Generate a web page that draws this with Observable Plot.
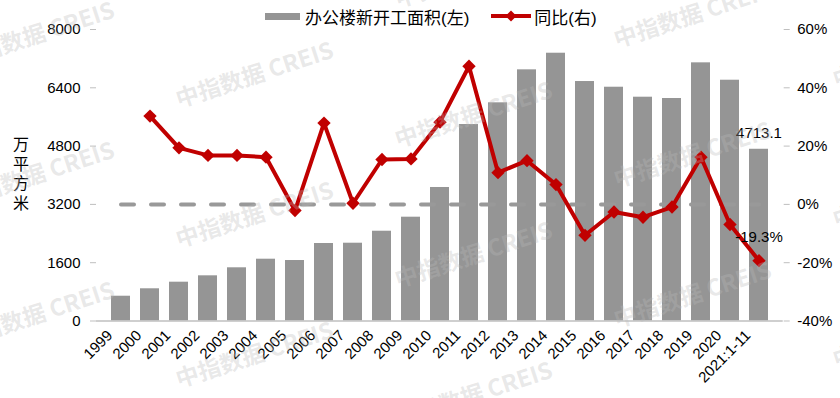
<!DOCTYPE html>
<html><head><meta charset="utf-8">
<script src="https://cdn.jsdelivr.net/npm/d3@7"></script>
<script src="https://cdn.jsdelivr.net/npm/@observablehq/plot@0.6"></script>
<style>
body{margin:0;background:#fff;}
#wrap{position:relative;width:840px;height:398px;overflow:hidden;font-family:"Liberation Sans",Arial,"Noto Sans CJK SC",sans-serif;color:#000;}
#wrap svg{position:absolute;left:0;top:0;}
.legend{position:absolute;left:265px;top:5px;height:22px;display:flex;align-items:center;font-size:17px;font-family:"Liberation Sans","Noto Sans CJK SC",sans-serif;white-space:nowrap;}
.ytitle{position:absolute;left:10px;top:136px;font-size:16px;line-height:22px;letter-spacing:3.5px;writing-mode:vertical-rl;text-orientation:upright;font-family:"Noto Sans CJK SC",sans-serif;}
.wm{position:absolute;font-size:23px;font-weight:bold;color:rgba(185,185,185,0.33);white-space:nowrap;transform:translate(-50%,-50%) rotate(-18deg);pointer-events:none;font-family:"Noto Sans CJK SC","Liberation Sans",sans-serif;}
</style></head><body><div id="wrap"></div><script>
const categories = ["1999","2000","2001","2002","2003","2004","2005","2006","2007","2008","2009","2010","2011","2012","2013","2014","2015","2016","2017","2018","2019","2020","2021:1-11"];
const areaValues = [680, 884, 1065, 1240, 1460, 1696, 1660, 2127, 2135, 2464, 2849, 3664, 5392, 5988, 6893, 7349, 6572, 6416, 6142, 6106, 7085, 6608, 4713.1];
const yoyValues = [null, 30.3, 19.4, 16.8, 16.8, 16.2, -2.1, 27.9, 0.4, 15.4, 15.6, 28.2, 47.4, 10.9, 15.0, 6.8, -10.6, -2.6, -4.4, -0.9, 16.2, -6.9, -19.3];
const leftTicks = [0, 1600, 3200, 4800, 6400, 8000];
const rightTicks = [-40, -20, 0, 20, 40, 60];
const seriesNames = ["办公楼新开工面积(左)", "同比(右)"];
const yTitle = "万平方米";
const watermarkText = "中指数据 CREIS";

const barColor = "#959595", lineColor = "#c00000", axisColor = "#bfbfbf";
// right axis (percent) mapped onto left scale: 0% -> 3200, 20% -> 1600 units
const toLeft = p => 3200 + p * 80;
const fromLeft = v => (v - 3200) / 80;

const rows = categories.map((c, i) => ({cat: c, area: areaValues[i], yoy: yoyValues[i]}));
const yoyRows = rows.filter(d => d.yoy != null);
const last = rows[rows.length - 1];

const chart = Plot.plot({
  width: 840, height: 398,
  marginTop: 29, marginBottom: 77.5, marginLeft: 96, marginRight: 57.3,
  style: {fontFamily: '"Liberation Sans", Arial, sans-serif', fontSize: "15px", color: "#000", background: "transparent"},
  x: {domain: categories, paddingInner: 0.33, paddingOuter: 0.165, label: null},
  y: {domain: [0, 8000], label: null},
  marks: [
    Plot.barY(rows, {x: "cat", y: "area", fill: barColor}),
    Plot.ruleY([0], {stroke: axisColor, strokeWidth: 1.5}),
    Plot.axisY(leftTicks, {anchor: "left", tickSize: 6, tickPadding: 10, line: true, stroke: axisColor, fill: "#000", label: null, fontSize: 15, tickFormat: d => String(d)}),
    Plot.axisY(rightTicks.map(toLeft), {anchor: "right", tickSize: 6, tickPadding: 8, line: true, stroke: axisColor, fill: "#000", label: null, fontSize: 15, tickFormat: v => fromLeft(v) + "%"}),
    Plot.axisX({tickRotate: -45, tickSize: 0, tickPadding: 8, fill: "#000", label: null, fontSize: 15, dx: -11, dy: 4}),
    Plot.line(categories, {x: d => d, y: () => toLeft(0), stroke: "#999999", strokeWidth: 4, strokeDasharray: "13,17", strokeLinecap: "round"}),
    Plot.line(yoyRows, {x: "cat", y: d => toLeft(d.yoy), stroke: lineColor, strokeWidth: 4}),
    Plot.dot(yoyRows, {x: "cat", y: d => toLeft(d.yoy), symbol: "diamond2", r: 6, fill: lineColor, stroke: "none"}),
    Plot.text([last], {x: "cat", y: "area", text: d => String(d.area), dy: -16.5, fill: "#000", fontSize: 15}),
    Plot.text([last], {x: "cat", y: d => toLeft(d.yoy), text: d => d.yoy + "%", dy: -23.5, fill: "#000", fontSize: 15})
  ]
});
const wrap = document.getElementById("wrap");
wrap.appendChild(chart);

// legend
const legend = document.createElement("div");
legend.className = "legend";
legend.innerHTML =
  `<span style="display:inline-block;width:35px;height:7px;background:${barColor};margin-right:5px"></span>` +
  `<span>${seriesNames[0]}</span>` +
  `<svg width="40" height="14" style="position:static;margin-left:22px;margin-right:3px"><line x1="0" y1="7" x2="40" y2="7" stroke="${lineColor}" stroke-width="4"/><path d="M20,1.5L25.5,7L20,12.5L14.5,7Z" fill="${lineColor}"/></svg>` +
  `<span>${seriesNames[1]}</span>`;
wrap.appendChild(legend);

// y title (vertical, upright characters)
const yt = document.createElement("div");
yt.className = "ytitle";
yt.textContent = yTitle;
wrap.appendChild(yt);

// watermark tiles
for (let j = 0; j < 5; j++) {
  for (let k = -1; k < 4; k++) {
    const cx = 35 + 219 * j, cy = 33 + 40 * j + 140 * k;
    if (cy < -40 || cy > 440) continue;
    const w = document.createElement("div");
    w.className = "wm";
    w.style.left = cx + "px"; w.style.top = cy + "px";
    w.textContent = watermarkText;
    wrap.appendChild(w);
  }
}
</script></body></html>
